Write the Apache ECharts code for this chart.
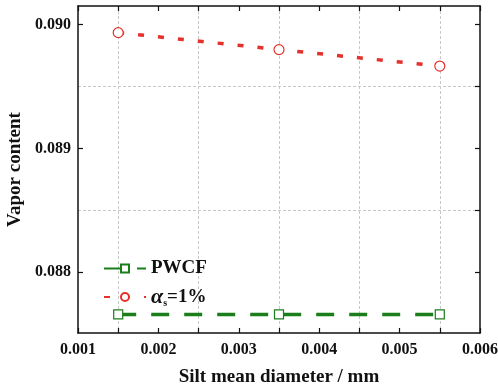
<!DOCTYPE html>
<html>
<head>
<meta charset="utf-8">
<script src="https://cdn.jsdelivr.net/npm/echarts@6/dist/echarts.min.js"></script>
<style>
  html, body { margin: 0; padding: 0; background: #fff; }
  #main { width: 498px; height: 390px; }
</style>
</head>
<body>
<div id="main"></div>
<script>
const diameters = [0.0015, 0.0035, 0.0055];
const pwcf = [0.08766, 0.08766, 0.08766];
const alphaS = [0.089935, 0.089798, 0.089665];
const seriesNames = ['PWCF', 'αs=1%'];
const yLabelValues = [0.088, 0.089, 0.090];
const yRightTicks = [0.088, 0.0885, 0.089, 0.0895, 0.090];
const yGridValues = [0.0885, 0.0895];

const font = '"Liberation Serif", "Times New Roman", serif';
const axisColor = '#111';

const chart = echarts.init(document.getElementById('main'));

const xBase = {
  type: 'value',
  min: 0.001,
  max: 0.006,
  interval: 0.001,
  axisLine: { onZero: false, lineStyle: { color: axisColor, width: 1.5 } },
  axisTick: { inside: true, length: 5, lineStyle: { color: axisColor, width: 1.2 } },
  minorTick: { show: true, splitNumber: 2, length: 5, lineStyle: { color: axisColor, width: 1.2 } },
  splitLine: { show: false }
};

chart.setOption({
  animation: false,
  grid: { left: 78, right: 18, top: 6, bottom: 57, containLabel: false, outerBoundsMode: 'none' },
  legend: {
    orient: 'vertical',
    left: 98,
    top: 254,
    itemWidth: 42,
    itemHeight: 10,
    itemGap: 8,
    data: seriesNames,
    formatter: name => name === 'PWCF' ? name : '{a|α}{s|s}=1%',
    textStyle: {
      fontFamily: font, fontSize: 19, fontWeight: 'bold', color: '#111',
      rich: {
        a: { fontFamily: font, fontSize: 22, fontWeight: 'bold', fontStyle: 'italic', color: '#111' },
        s: { fontFamily: font, fontSize: 10, fontWeight: 'bold', color: '#111', verticalAlign: 'bottom', padding: [9, 0, 0, 0] }
      }
    }
  },
  xAxis: [
    Object.assign({}, xBase, {
      position: 'bottom',
      name: 'Silt mean diameter / mm',
      nameLocation: 'middle',
      nameGap: 35,
      nameTextStyle: { fontFamily: font, fontSize: 19, fontWeight: 'bold', color: '#111' },
      axisLabel: {
        margin: 9,
        fontFamily: font, fontSize: 16, fontWeight: 'bold', color: '#111',
        formatter: v => v.toFixed(3)
      },
      minorSplitLine: { show: true, lineStyle: { color: '#c8c8c8', type: [3, 2], width: 1 } }
    }),
    Object.assign({}, xBase, {
      position: 'top',
      axisLabel: { show: false },
      minorSplitLine: { show: false }
    })
  ],
  yAxis: [
    {
      type: 'value',
      position: 'left',
      min: 0.08751,
      max: 0.09015,
      name: 'Vapor content',
      nameLocation: 'middle',
      nameGap: 52,
      nameTextStyle: { fontFamily: font, fontSize: 19, fontWeight: 'bold', color: '#111' },
      axisLine: { show: true, onZero: false, lineStyle: { color: axisColor, width: 1.5 } },
      axisTick: { show: true, inside: true, length: 5, customValues: yLabelValues, lineStyle: { color: axisColor, width: 1.2 } },
      axisLabel: {
        margin: 7,
        customValues: yLabelValues,
        fontFamily: font, fontSize: 16, fontWeight: 'bold', color: '#111',
        formatter: v => v.toFixed(3)
      },
      splitLine: { show: false }
    },
    {
      type: 'value',
      position: 'left',
      min: 0.08751,
      max: 0.09015,
      axisLine: { show: false },
      axisTick: { show: false, customValues: yGridValues },
      axisLabel: { show: false, customValues: yGridValues },
      splitLine: { show: true, lineStyle: { color: '#c8c8c8', type: [3, 2], width: 1 } }
    },
    {
      type: 'value',
      position: 'right',
      min: 0.08751,
      max: 0.09015,
      axisLine: { show: true, onZero: false, lineStyle: { color: axisColor, width: 1.5 } },
      axisTick: { show: true, inside: true, length: 5, customValues: yRightTicks, lineStyle: { color: axisColor, width: 1.2 } },
      axisLabel: { show: false, customValues: yRightTicks },
      splitLine: { show: false }
    }
  ],
  series: [
    {
      name: seriesNames[0],
      type: 'line',
      xAxisIndex: 0,
      yAxisIndex: 0,
      data: diameters.map((d, i) => [d, pwcf[i]]),
      symbol: 'rect',
      symbolSize: 9,
      lineStyle: { color: '#1a7f1a', width: 3.5, type: [18, 15] },
      itemStyle: { color: '#fff', borderColor: '#1a7f1a', borderWidth: 1.2 },
      z: 3
    },
    {
      name: seriesNames[1],
      type: 'line',
      xAxisIndex: 0,
      yAxisIndex: 0,
      data: diameters.map((d, i) => [d, alphaS[i]]),
      symbol: 'circle',
      symbolSize: 10,
      lineStyle: { color: '#e5312b', width: 3.5, type: [6, 14] },
      itemStyle: { color: '#fff', borderColor: '#e5312b', borderWidth: 1.2 },
      z: 3
    }
  ]
});
</script>
</body>
</html>
